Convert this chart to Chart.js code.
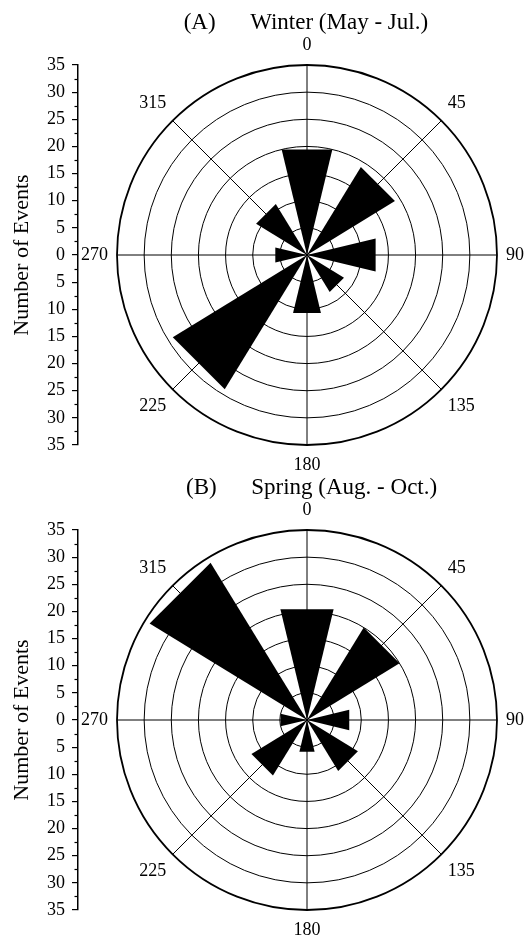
<!DOCTYPE html>
<html lang="en">
<head>
<meta charset="UTF-8">
<title>Rose diagrams - Number of Events</title>
<script src="https://cdn.jsdelivr.net/npm/chart.js"></script>
<style>
    body {
        margin: 0;
        background: #fff;
        width: 528px;
        height: 939px;
        overflow: hidden;
        position: relative;
    }
    .box { position: absolute; }
    canvas { display: block; }
</style>
</head>
<body>
<div class="box" style="left:0;top:0;width:80px;height:482px"><canvas id="axisA"></canvas></div>
<div class="box" style="left:77px;top:0;width:452px;height:482px"><canvas id="roseA"></canvas></div>
<div class="box" style="left:0;top:465px;width:80px;height:482px"><canvas id="axisB"></canvas></div>
<div class="box" style="left:77px;top:465px;width:452px;height:482px"><canvas id="roseB"></canvas></div>

<script>
// direction bins (degrees) and event counts per bin
const directionLabels = ['0', '45', '90', '135', '180', '225', '270', '315'];
const winterEvents = [20, 19, 13, 8, 11, 29, 6, 11];
const springEvents = [21, 20, 8, 11, 6, 12, 5, 34];
const winterTitle = ' (A)      Winter (May - Jul.)';
const springTitle = '   (B)      Spring (Aug. - Oct.)';
const axisMax = 35;

const SERIF = "'Liberation Serif', 'Times New Roman', serif";
const WEDGE = 27; // angular width of a bar, degrees

// polar area draws arcs back to back, so put empty arcs between the bars
// and split the 0 deg bar in two halves (start and end of the list)
function roseSeries(counts) {
    const values = [counts[0]];
    const angles = [WEDGE / 2];
    for (let i = 1; i < counts.length; i++) {
        values.push(0, counts[i]);
        angles.push(45 - WEDGE, WEDGE);
    }
    values.push(0, counts[0]);
    angles.push(45 - WEDGE, WEDGE / 2);
    return { values, angles };
}

// bars are straight-topped wedges, not arcs
const flatWedges = {
    id: 'flatWedges',
    beforeDatasetsDraw(chart) {
        const arcs = chart.getDatasetMeta(0).data.map(a =>
            a.getProps(['x', 'y', 'startAngle', 'endAngle', 'outerRadius'], true));
        const first = arcs.shift();
        const last = arcs.pop();
        arcs.push({
            x: last.x, y: last.y, outerRadius: last.outerRadius,
            startAngle: last.startAngle,
            endAngle: last.endAngle + (first.endAngle - first.startAngle)
        });
        const ctx = chart.ctx;
        ctx.save();
        ctx.fillStyle = '#000';
        arcs.forEach(a => {
            if (!(a.outerRadius > 0)) return;
            ctx.beginPath();
            ctx.moveTo(a.x, a.y);
            ctx.lineTo(a.x + a.outerRadius * Math.cos(a.startAngle), a.y + a.outerRadius * Math.sin(a.startAngle));
            ctx.lineTo(a.x + a.outerRadius * Math.cos(a.endAngle), a.y + a.outerRadius * Math.sin(a.endAngle));
            ctx.closePath();
            ctx.fill();
        });
        ctx.restore();
        return false;
    }
};

// short ticks half way between the labelled ones
const minorTicks = {
    id: 'minorTicks',
    afterDraw(chart) {
        const s = chart.scales.y;
        const ctx = chart.ctx;
        ctx.save();
        ctx.strokeStyle = '#000';
        ctx.lineWidth = 1.2;
        for (let v = -axisMax + 2.5; v < axisMax; v += 5) {
            const y = Math.round(s.getPixelForValue(v)) + 0.5;
            ctx.beginPath();
            ctx.moveTo(s.right - 3.5, y);
            ctx.lineTo(s.right, y);
            ctx.stroke();
        }
        ctx.restore();
    }
};

function makeRose(id, counts, title) {
    const series = roseSeries(counts);
    return new Chart(document.getElementById(id), {
        type: 'polarArea',
        data: {
            labels: directionLabels,
            datasets: [{
                data: series.values,
                angle: series.angles,
                backgroundColor: '#000',
                borderWidth: 0
            }]
        },
        options: {
            responsive: true,
            maintainAspectRatio: false,
            animation: false,
            layout: { padding: 0 },
            plugins: {
                legend: { display: false },
                tooltip: { enabled: false },
                title: {
                    display: true,
                    text: title,
                    color: '#000',
                    font: { family: SERIF, size: 23, weight: 'normal', lineHeight: 0.6 },
                    padding: { top: 16, bottom: 0 }
                }
            },
            scales: {
                r: {
                    min: 0,
                    max: axisMax,
                    startAngle: 0,
                    ticks: { display: false, stepSize: 5 },
                    grid: {
                        circular: true,
                        color: '#000',
                        lineWidth: c => (c.tick && c.tick.value === axisMax ? 1.8 : 1)
                    },
                    angleLines: { display: true, color: '#000', lineWidth: 1 },
                    pointLabels: {
                        display: true,
                        color: '#000',
                        padding: 9,
                        font: { family: SERIF, size: 18 }
                    }
                }
            }
        },
        plugins: [flatWedges]
    });
}

function makeAxis(id) {
    return new Chart(document.getElementById(id), {
        type: 'scatter',
        data: { datasets: [{ data: [] }] },
        options: {
            responsive: true,
            maintainAspectRatio: false,
            animation: false,
            layout: { padding: { top: 65, bottom: 37, left: 0, right: 0 } },
            plugins: { legend: { display: false }, tooltip: { enabled: false } },
            scales: {
                x: { display: false, min: 0, max: 1 },
                y: {
                    min: -axisMax,
                    max: axisMax,
                    afterFit: s => { s.width = 78; },
                    ticks: {
                        stepSize: 5,
                        autoSkip: false,
                        padding: 7,
                        color: '#000',
                        font: { family: SERIF, size: 18 },
                        callback: v => Math.abs(v)
                    },
                    grid: { drawOnChartArea: false, drawTicks: true, tickLength: 6, color: '#000', lineWidth: 1.2 },
                    border: { display: true, color: '#000', width: 1.5 },
                    title: {
                        display: true,
                        text: 'Number of Events',
                        color: '#000',
                        font: { family: SERIF, size: 22 },
                        padding: { top: 9, bottom: 0 }
                    }
                }
            }
        },
        plugins: [minorTicks]
    });
}

makeAxis('axisA');
makeRose('roseA', winterEvents, winterTitle);
makeAxis('axisB');
makeRose('roseB', springEvents, springTitle);
</script>
</body>
</html>
